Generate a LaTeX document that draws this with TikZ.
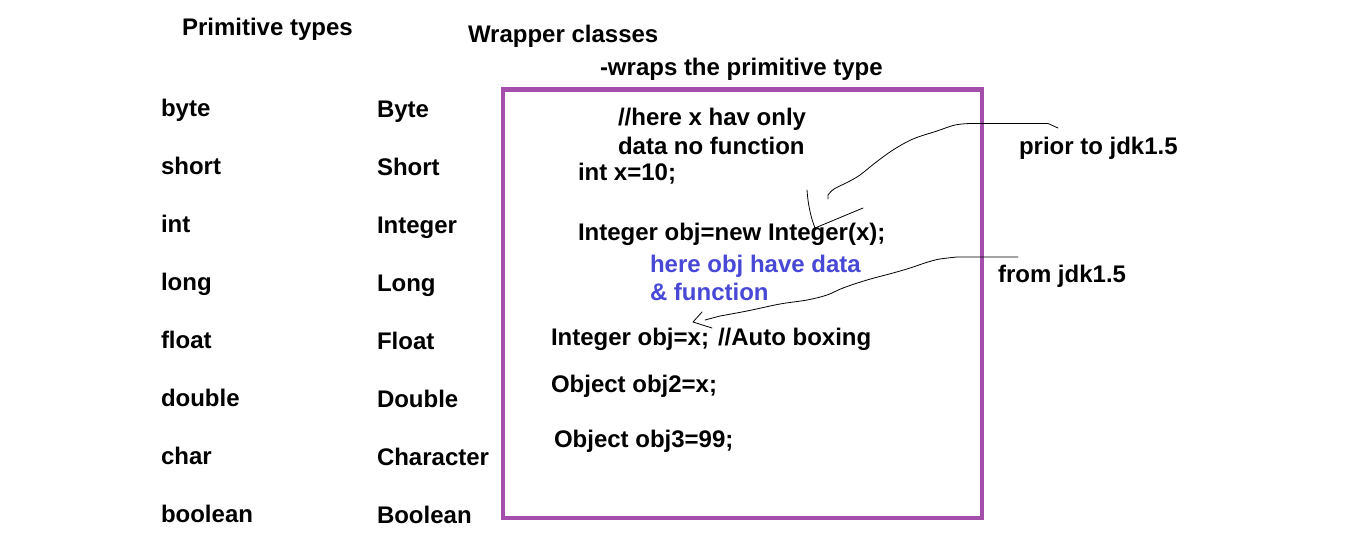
\documentclass[tikz,border=0pt]{standalone}
\usepackage{fontspec}
\setmainfont{Liberation Sans}
\definecolor{boxpurple}{RGB}{163,78,170}
\definecolor{noteblue}{RGB}{72,72,214}
\begin{document}
\begin{tikzpicture}[x=1pt,y=-1pt,
  lbl/.style={anchor=base west,inner sep=0pt,outer sep=0pt,font=\fontsize{24}{26}\selectfont\bfseries},
  note/.style={lbl,text=noteblue},
  stroke/.style={line width=0.8pt,line cap=round,line join=round}]
\useasboundingbox[fill=white] (0,0) rectangle (1349,544);
% headings
\node[lbl] (ptypes) at (182,35) {Primitive types};
\node[lbl] (wclasses) at (468,42) {Wrapper classes};
\node[lbl] (wraps) at (600,75) {-wraps the primitive type};
% left column
\node[lbl] (p1) at (161,116) {byte};
\node[lbl] (p2) at (161,174) {short};
\node[lbl] (p3) at (161,232) {int};
\node[lbl] (p4) at (161,290) {long};
\node[lbl] (p5) at (161,348) {float};
\node[lbl] (p6) at (161,406) {double};
\node[lbl] (p7) at (161,464) {char};
\node[lbl] (p8) at (161,522) {boolean};
% right column
\node[lbl] (w1) at (377,117) {Byte};
\node[lbl] (w2) at (377,175) {Short};
\node[lbl] (w3) at (377,233) {Integer};
\node[lbl] (w4) at (377,291) {Long};
\node[lbl] (w5) at (377,349) {Float};
\node[lbl] (w6) at (377,407) {Double};
\node[lbl] (w7) at (377,465) {Character};
\node[lbl] (w8) at (377,523) {Boolean};
% box
\draw[boxpurple,line width=4.5pt] (503,89.5) rectangle (982,518);
% code
\node[lbl] (c1) at (618,125) {//here x hav only};
\node[lbl] (c2) at (618,154) {data no function};
\node[lbl] (c3) at (578,180) {int x=10;};
\node[lbl] (c4) at (578,240) {Integer obj=new Integer(x);};
\node[note] (n1) at (650,272) {here obj have data};
\node[note] (n2) at (650,300) {\& function};
\node[lbl] (c5) at (551,345) {Integer obj=x;};
\node[lbl] (c6) at (718,345) {//Auto boxing};
\node[lbl] (c7) at (551,392) {Object obj2=x;};
\node[lbl] (c8) at (554,447) {Object obj3=99;};
% side labels
\node[lbl] (prior) at (1019,154) {prior to jdk1.5};
\node[lbl] (from) at (998,282) {from jdk1.5};
% hand drawn arrow 1
\coordinate (a1s) at (1058,128);
\coordinate (a1e) at (828,199);
\draw[stroke] (a1s) -- (1048,123.5) -- (970,123.5)
  plot[smooth,tension=0.6] coordinates {(970,123.5) (955,125) (937,131) (913,139) (893,150) (875,163) (860,175) (848,182) (834,189) (828,195)} -- (a1e);
\coordinate (h1a) at (807,190);
\coordinate (h1b) at (815,228);
\coordinate (h1c) at (863,208);
\draw[stroke] (h1a) .. controls (808,205) and (811,218) .. (h1b) -- (h1c);
% hand drawn arrow 2
\coordinate (a2s) at (1018,257);
\coordinate (a2e) at (705,320);
\draw[stroke] (a2s) -- (957,257)
  plot[smooth,tension=0.6] coordinates {(957,257) (940,259) (928,262) (910,268) (893,273) (867,280) (843,288) (827,295) (807,300) (780,304) (747,311) (720,316)} -- (a2e);
\coordinate (h2a) at (702,312);
\coordinate (h2b) at (693,322);
\coordinate (h2c) at (712,328);
\draw[stroke] (h2a) -- (h2b) -- (h2c);
\end{tikzpicture}
\end{document}
